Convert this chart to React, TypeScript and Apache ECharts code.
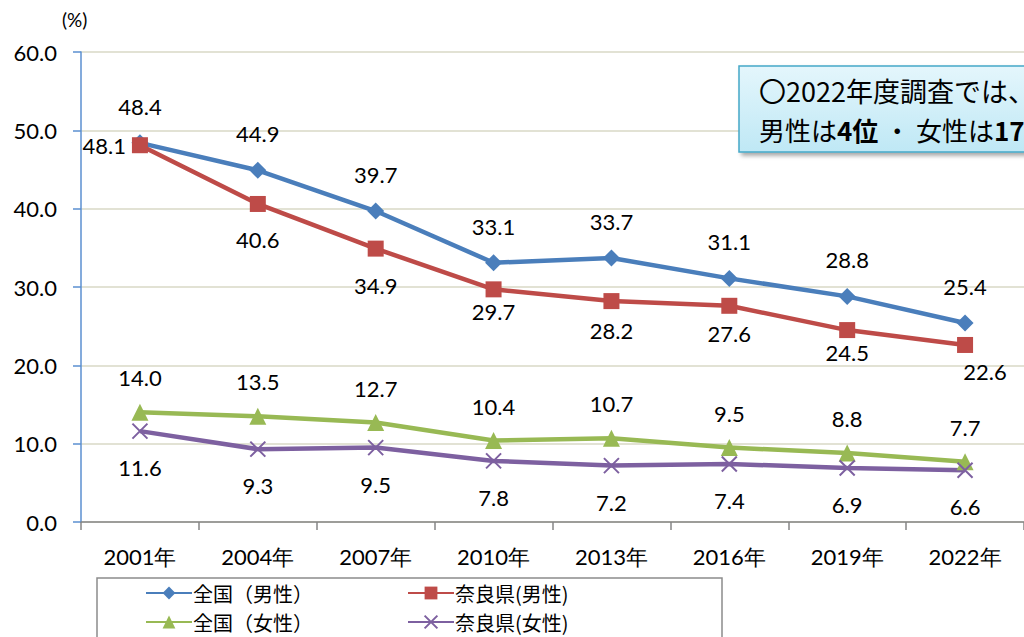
import React, { useEffect, useRef } from "react";
import * as echarts from "echarts";

const categories = ["2001年", "2004年", "2007年", "2010年", "2013年", "2016年", "2019年", "2022年"];
const zenkokuMale = [48.4, 44.9, 39.7, 33.1, 33.7, 31.1, 28.8, 25.4];
const naraMale = [48.1, 40.6, 34.9, 29.7, 28.2, 27.6, 24.5, 22.6];
const zenkokuFemale = [14.0, 13.5, 12.7, 10.4, 10.7, 9.5, 8.8, 7.7];
const naraFemale = [11.6, 9.3, 9.5, 7.8, 7.2, 7.4, 6.9, 6.6];
const seriesNames = ["全国（男性）", "奈良県(男性)", "全国（女性）", "奈良県(女性)"];
const yTicks = { min: 0, max: 60, interval: 10 };

const NUM_FONT = "Lato, 'Open Sans', sans-serif";
const JP_FONT = "'Noto Sans CJK JP', sans-serif";

// per-point label nudges for 奈良県(男性) (x, y in px)
const naraMaleLabelNudge: [number, number][] = [
  [0, 0], [0, 14], [0, 15], [0, 0], [0, 7], [0, 6], [0, 0], [20, 5],
];

export default function App() {
  const ref = useRef<HTMLDivElement>(null);
  useEffect(() => {
    if (!ref.current) return;
    const chart = echarts.init(ref.current, null, { renderer: "svg" });
    const lbl = (position: string, distance: number) => ({
      show: true,
      position,
      distance,
      fontSize: 22,
      fontFamily: NUM_FONT,
      color: "#000",
      formatter: (p: any) => Number(p.value).toFixed(1),
    });
    const legendItem = (name: string, left: number, top: number) => ({
      left,
      top,
      orient: "horizontal",
      padding: 0,
      itemWidth: 46,
      itemHeight: 16,
      data: [name],
      textStyle: { fontSize: 20, fontFamily: JP_FONT, color: "#000", padding: [0, 0, 0, -4] },
    });
    const option: any = {
      animation: false,
      backgroundColor: "#fff",
      grid: { left: 81, right: -7, top: 52, bottom: 115, containLabel: false },
      xAxis: {
        type: "category",
        data: categories,
        boundaryGap: true,
        axisLine: { lineStyle: { color: "#868686", width: 1.5 } },
        axisTick: { show: true, length: 8, lineStyle: { color: "#868686", width: 1.5 } },
        axisLabel: { fontSize: 22, fontFamily: NUM_FONT, color: "#000", margin: 23 },
      },
      yAxis: {
        type: "value",
        min: yTicks.min,
        max: yTicks.max,
        interval: yTicks.interval,
        axisLine: { show: true, lineStyle: { color: "#5b8fd0", width: 1.5 } },
        axisTick: { show: true, length: 8, lineStyle: { color: "#5b8fd0", width: 1.5 } },
        axisLabel: {
          fontSize: 22,
          fontFamily: NUM_FONT,
          color: "#000",
          margin: 24,
          formatter: (v: number) => v.toFixed(1),
        },
        splitLine: { show: true, lineStyle: { color: "#d9d9c6", width: 1.5 } },
      },
      legend: [
        legendItem(seriesNames[0], 145, 583),
        legendItem(seriesNames[2], 145, 612),
        legendItem(seriesNames[1], 407, 583),
        legendItem(seriesNames[3], 407, 612),
      ],
      graphic: [
        {
          type: "rect",
          shape: { x: 97, y: 578, width: 625, height: 80 },
          style: { fill: "none", stroke: "#8c8c8c", lineWidth: 1.5 },
          z: 1,
        },
        {
          type: "text",
          left: 62,
          top: 10,
          style: { text: "(%)", fontSize: 19, fontFamily: NUM_FONT, fill: "#000" },
        },
        {
          type: "rect",
          shape: { x: 739, y: 66, width: 320, height: 86 },
          style: {
            fill: new echarts.graphic.LinearGradient(0, 0, 0, 1, [
              { offset: 0, color: "#e4f6fc" },
              { offset: 1, color: "#bfe8f5" },
            ]),
            stroke: "#46a8c8",
            lineWidth: 1.5,
            shadowBlur: 4,
            shadowOffsetX: 3,
            shadowOffsetY: 3,
            shadowColor: "rgba(0,0,0,0.35)",
          },
          z: 10,
        },
        {
          type: "text",
          x: 759,
          y: 77,
          z: 11,
          style: {
            text: "〇2022年度調査では、",
            fontSize: 27,
            fontFamily: JP_FONT,
            fill: "#000",
          },
        },
        {
          type: "text",
          x: 759,
          y: 116,
          z: 11,
          style: {
            text: "{n|男性は}{b|4位}{n| ・ 女性は}{b|17位}",
            rich: {
              n: { fontSize: 26, fontFamily: JP_FONT, fill: "#000", color: "#000" },
              b: { fontSize: 26, fontFamily: JP_FONT, fontWeight: "bold", fill: "#000", color: "#000" },
            },
          },
        },
      ],
      series: [
        {
          name: seriesNames[0],
          type: "line",
          data: zenkokuMale,
          symbol: "diamond",
          symbolSize: 17,
          lineStyle: { color: "#4a7ebb", width: 4.5 },
          itemStyle: { color: "#4a7ebb" },
          label: lbl("top", 17),
          z: 4,
        },
        {
          name: seriesNames[1],
          type: "line",
          data: naraMale.map((v, i) =>
            i === 0
              ? { value: v, label: { position: "left", distance: 6 } }
              : { value: v, label: { offset: naraMaleLabelNudge[i] } }
          ),
          symbol: "rect",
          symbolSize: 16,
          lineStyle: { color: "#be4b48", width: 4.5 },
          itemStyle: { color: "#be4b48" },
          label: lbl("bottom", 3),
          z: 5,
        },
        {
          name: seriesNames[2],
          type: "line",
          data: zenkokuFemale,
          symbol: "triangle",
          symbolSize: 17,
          lineStyle: { color: "#98b954", width: 4.5 },
          itemStyle: { color: "#98b954" },
          label: lbl("top", 15),
          z: 3,
        },
        {
          name: seriesNames[3],
          type: "line",
          data: naraFemale,
          symbol: "path://M0,0L16,16M16,0L0,16",
          symbolSize: 15,
          lineStyle: { color: "#7d60a0", width: 4.5 },
          itemStyle: { color: "#7d60a0", borderColor: "#7d60a0", borderWidth: 2 },
          label: lbl("bottom", 17),
          z: 3,
        },
      ],
    };
    chart.setOption(option);
    return () => chart.dispose();
  }, []);
  return (
    <div
      ref={ref}
      style={{ position: "fixed", left: 0, top: 0, width: 1024, height: 637, overflow: "hidden" }}
    />
  );
}
